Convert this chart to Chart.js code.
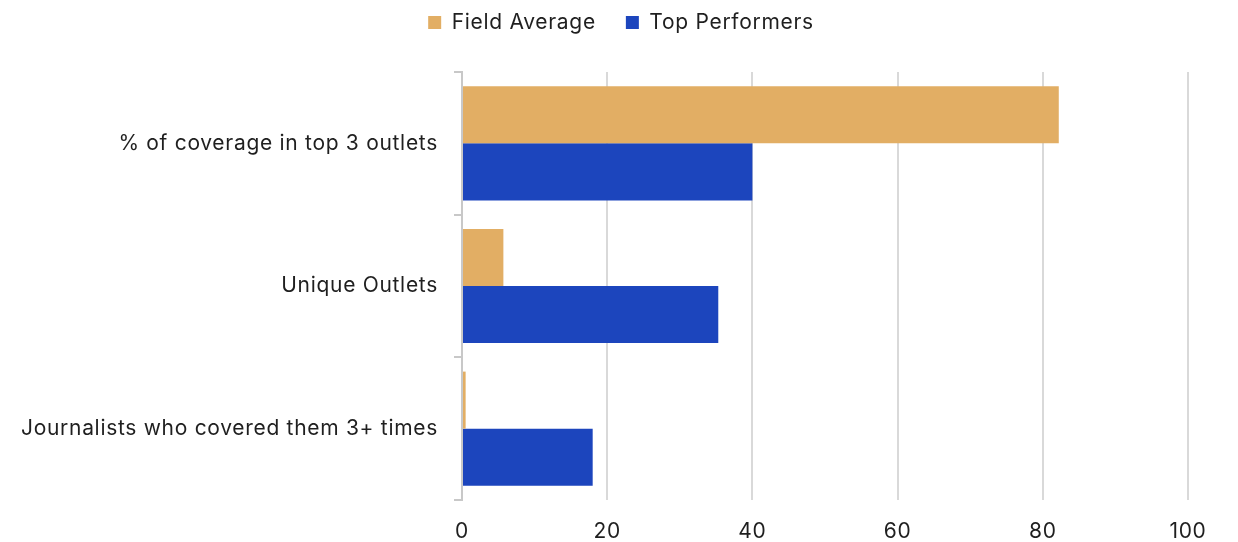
<!DOCTYPE html>
<html>
<head>
<meta charset="utf-8">
<script src="https://cdn.jsdelivr.net/npm/chart.js@4/dist/chart.umd.min.js"></script>
<style>
  html, body { margin: 0; padding: 0; background: #ffffff; }
  #wrap { width: 1238px; height: 542px; }
</style>
</head>
<body>
<div id="wrap"><canvas id="chart" width="1238" height="542"></canvas></div>
<script>
// Categories and series values
const categories = [
  "% of coverage in top 3 outlets",
  "Unique Outlets",
  "Journalists who covered them 3+ times"
];
const fieldAverage = [82.2, 5.7, 0.5];
const topPerformers = [40, 35.3, 18];
const xTicks = [0, 20, 40, 60, 80, 100];

const FONT = "Inter, 'Noto Sans', sans-serif";
const TEXT = "#1f1f1f";
const GRID = "#d9d9d9";
const LEGEND_PAD = 30;

// Fixed-height legend block; its row is nudged up so the wide item gap
// does not also push the text down, and re-centred over the page
const legendLayout = {
  id: "legendLayout",
  beforeInit(chart) {
    const fit = chart.legend.fit;
    chart.legend.fit = function () {
      fit.bind(chart.legend)();
      this.height = 72;
    };
  },
  afterLayout(chart) {
    const lg = chart.legend;
    lg.top -= (LEGEND_PAD - 12);
    lg.left += 27;
    lg.right += 27;
  }
};

// Slightly open letter spacing for all canvas text
const tracking = {
  id: "tracking",
  beforeUpdate(chart) { chart.ctx.letterSpacing = "0.7px"; },
  beforeDraw(chart) { chart.ctx.letterSpacing = "0.7px"; }
};

new Chart(document.getElementById("chart"), {
  type: "bar",
  data: {
    labels: categories,
    datasets: [
      {
        label: "Field Average",
        data: fieldAverage,
        backgroundColor: "#E2AE64",
        borderWidth: 0,
        categoryPercentage: 0.8,
        barPercentage: 1.0
      },
      {
        label: "Top Performers",
        data: topPerformers,
        backgroundColor: "#1C45BD",
        borderWidth: 0,
        categoryPercentage: 0.8,
        barPercentage: 1.0
      }
    ]
  },
  options: {
    indexAxis: "y",
    responsive: false,
    animation: false,
    layout: { padding: { left: 0, right: 50, top: 0, bottom: 0 } },
    plugins: {
      tooltip: { enabled: false },
      legend: {
        position: "top",
        align: "center",
        labels: {
          boxWidth: 13,
          boxHeight: 13,
          padding: LEGEND_PAD,
          color: TEXT,
          font: { family: FONT, size: 21 }
        }
      }
    },
    scales: {
      x: {
        min: 0,
        max: 100,
        afterBuildTicks(scale) {
          scale.ticks = xTicks.map(v => ({ value: v }));
        },
        afterFit(scale) { scale.height = 42; },
        grid: {
          color: GRID,
          lineWidth: 2,
          drawTicks: false
        },
        border: { display: false },
        ticks: {
          color: TEXT,
          padding: 19,
          font: { family: FONT, size: 21 }
        }
      },
      y: {
        afterFit(scale) { scale.width = 462; },
        grid: {
          offset: true,
          drawOnChartArea: false,
          color: "#c8c8c8",
          lineWidth: 2,
          tickLength: 8
        },
        border: { display: true, color: "#c8c8c8", width: 2 },
        ticks: {
          color: TEXT,
          padding: 16,
          font: { family: FONT, size: 21 }
        }
      }
    }
  },
  plugins: [legendLayout, tracking]
});
</script>
</body>
</html>
